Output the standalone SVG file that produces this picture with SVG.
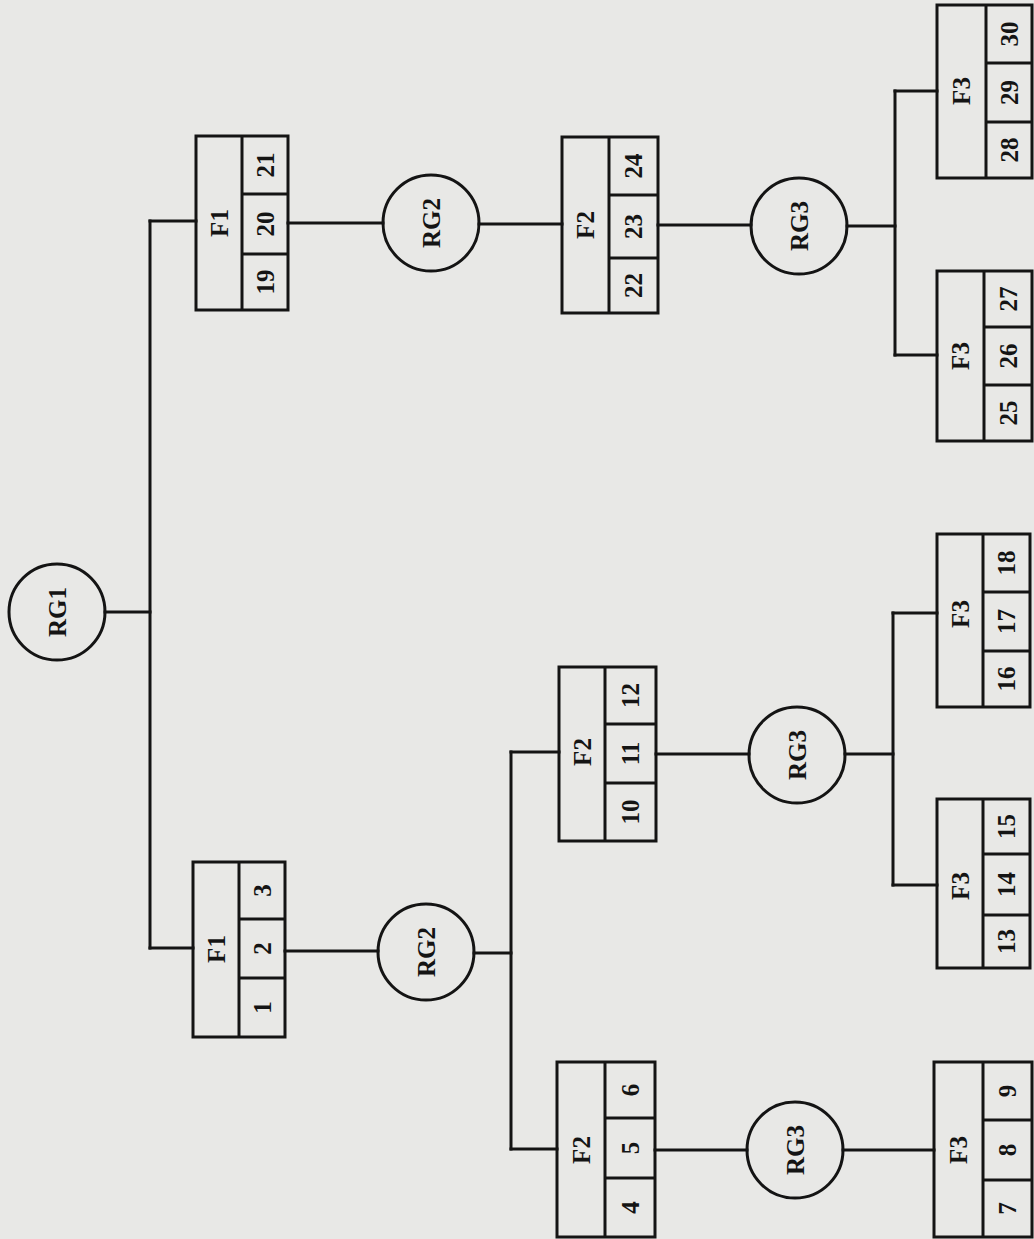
<svg xmlns="http://www.w3.org/2000/svg" width="1034" height="1239" viewBox="0 0 1034 1239">
<style>
.bg{fill:#e8e8e6}
.ln{stroke:#141414;stroke-width:3;fill:none;stroke-linecap:square}
.bx{stroke:#141414;stroke-width:3;fill:none}
.cr{stroke:#141414;stroke-width:3;fill:none}
text{font-family:"Liberation Serif","Times New Roman",serif;font-weight:bold;font-size:25px;fill:#141414;text-anchor:middle;dominant-baseline:central}
</style>
<rect class="bg" x="0" y="0" width="1034" height="1239"/>
<g id="connectors">
<path class="ln" d="M105 612H150"/>
<path class="ln" d="M150 221V948"/>
<path class="ln" d="M150 221H196"/>
<path class="ln" d="M150 948H193"/>
<path class="ln" d="M288 223H383"/>
<path class="ln" d="M479 224H562"/>
<path class="ln" d="M658 225H751"/>
<path class="ln" d="M847 226H895"/>
<path class="ln" d="M895 91V355"/>
<path class="ln" d="M895 91H937"/>
<path class="ln" d="M895 355H937"/>
<path class="ln" d="M285 951H378"/>
<path class="ln" d="M474 953H511"/>
<path class="ln" d="M511 752V1149"/>
<path class="ln" d="M511 752H559"/>
<path class="ln" d="M511 1149H557"/>
<path class="ln" d="M656 754H749"/>
<path class="ln" d="M845 754H893"/>
<path class="ln" d="M893 613V885"/>
<path class="ln" d="M893 613H937"/>
<path class="ln" d="M893 885H937"/>
<path class="ln" d="M655 1150H747"/>
<path class="ln" d="M843 1150H934"/>
</g>
<g id="RG1"><circle class="cr" cx="57" cy="612" r="48"/><text transform="translate(57 612) rotate(-90)">RG1</text></g>
<g id="RG2-top"><circle class="cr" cx="431" cy="223" r="48"/><text transform="translate(431 223) rotate(-90)">RG2</text></g>
<g id="RG3-top"><circle class="cr" cx="799" cy="226" r="48"/><text transform="translate(799 226) rotate(-90)">RG3</text></g>
<g id="RG2-bottom"><circle class="cr" cx="426" cy="952" r="48"/><text transform="translate(426 952) rotate(-90)">RG2</text></g>
<g id="RG3-mid"><circle class="cr" cx="797" cy="755" r="48"/><text transform="translate(797 755) rotate(-90)">RG3</text></g>
<g id="RG3-bottom"><circle class="cr" cx="795" cy="1150" r="48"/><text transform="translate(795 1150) rotate(-90)">RG3</text></g>
<g id="F1-19-21">
<rect class="bx" x="196" y="136" width="92" height="174"/>
<path class="bx" d="M242 136V310M242 194H288M242 254H288"/>
<text transform="translate(219 223) rotate(-90)">F1</text>
<text transform="translate(265 165) rotate(-90)">21</text>
<text transform="translate(265 224) rotate(-90)">20</text>
<text transform="translate(265 282) rotate(-90)">19</text>
</g>
<g id="F2-22-24">
<rect class="bx" x="562" y="137" width="96" height="176"/>
<path class="bx" d="M609 137V313M609 195H658M609 258H658"/>
<text transform="translate(585.5 225) rotate(-90)">F2</text>
<text transform="translate(633.5 166) rotate(-90)">24</text>
<text transform="translate(633.5 226.5) rotate(-90)">23</text>
<text transform="translate(633.5 285.5) rotate(-90)">22</text>
</g>
<g id="F3-28-30">
<rect class="bx" x="937" y="5" width="95" height="173"/>
<path class="bx" d="M986 5V178M986 63H1032M986 122H1032"/>
<text transform="translate(961.5 91) rotate(-90)">F3</text>
<text transform="translate(1009 34) rotate(-90)">30</text>
<text transform="translate(1009 92.5) rotate(-90)">29</text>
<text transform="translate(1009 150) rotate(-90)">28</text>
</g>
<g id="F3-25-27">
<rect class="bx" x="937" y="271" width="95" height="170"/>
<path class="bx" d="M984 271V441M984 327H1032M984 385H1032"/>
<text transform="translate(960.5 356) rotate(-90)">F3</text>
<text transform="translate(1008 299) rotate(-90)">27</text>
<text transform="translate(1008 356) rotate(-90)">26</text>
<text transform="translate(1008 413) rotate(-90)">25</text>
</g>
<g id="F1-1-3">
<rect class="bx" x="193" y="862" width="92" height="175"/>
<path class="bx" d="M239 862V1037M239 919H285M239 978H285"/>
<text transform="translate(216 949) rotate(-90)">F1</text>
<text transform="translate(262 890.5) rotate(-90)">3</text>
<text transform="translate(262 948.5) rotate(-90)">2</text>
<text transform="translate(262 1007.5) rotate(-90)">1</text>
</g>
<g id="F2-10-12">
<rect class="bx" x="559" y="667" width="97" height="174"/>
<path class="bx" d="M605 667V841M605 724H656M605 783H656"/>
<text transform="translate(582 752) rotate(-90)">F2</text>
<text transform="translate(630.5 695.5) rotate(-90)">12</text>
<text transform="translate(630.5 753.5) rotate(-90)">11</text>
<text transform="translate(630.5 812) rotate(-90)">10</text>
</g>
<g id="F3-16-18">
<rect class="bx" x="937" y="534" width="93" height="173"/>
<path class="bx" d="M983 534V707M983 592H1030M983 651H1030"/>
<text transform="translate(960 614) rotate(-90)">F3</text>
<text transform="translate(1006.5 563) rotate(-90)">18</text>
<text transform="translate(1006.5 621.5) rotate(-90)">17</text>
<text transform="translate(1006.5 679) rotate(-90)">16</text>
</g>
<g id="F3-13-15">
<rect class="bx" x="937" y="799" width="93" height="169"/>
<path class="bx" d="M983 799V968M983 854H1030M983 915H1030"/>
<text transform="translate(960 886) rotate(-90)">F3</text>
<text transform="translate(1006.5 826.5) rotate(-90)">15</text>
<text transform="translate(1006.5 884.5) rotate(-90)">14</text>
<text transform="translate(1006.5 941.5) rotate(-90)">13</text>
</g>
<g id="F2-4-6">
<rect class="bx" x="557" y="1062" width="98" height="175"/>
<path class="bx" d="M605 1062V1237M605 1118H655M605 1178H655"/>
<text transform="translate(581 1150) rotate(-90)">F2</text>
<text transform="translate(630 1090) rotate(-90)">6</text>
<text transform="translate(630 1148) rotate(-90)">5</text>
<text transform="translate(630 1207.5) rotate(-90)">4</text>
</g>
<g id="F3-7-9">
<rect class="bx" x="934" y="1062" width="98" height="175"/>
<path class="bx" d="M983 1062V1237M983 1120H1032M983 1180H1032"/>
<text transform="translate(958.5 1150) rotate(-90)">F3</text>
<text transform="translate(1007.5 1091) rotate(-90)">9</text>
<text transform="translate(1007.5 1150) rotate(-90)">8</text>
<text transform="translate(1007.5 1208.5) rotate(-90)">7</text>
</g>
</svg>
